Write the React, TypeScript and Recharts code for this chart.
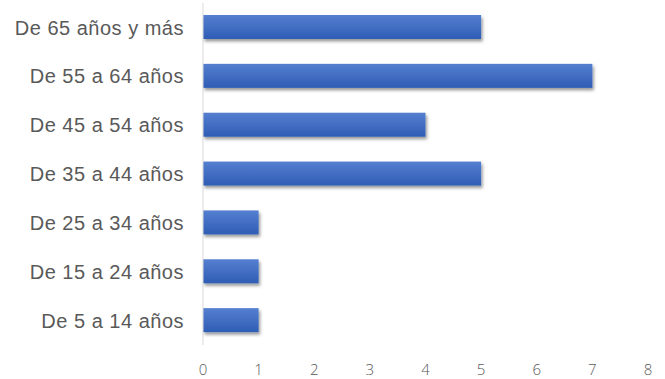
import { Bar, BarChart, XAxis, YAxis } from "recharts";

const ageGroups = [
  "De 65 años y más",
  "De 55 a 64 años",
  "De 45 a 54 años",
  "De 35 a 44 años",
  "De 25 a 34 años",
  "De 15 a 24 años",
  "De 5 a 14 años",
];
const counts = [5, 7, 4, 5, 1, 1, 1];
const xTicks = [0, 1, 2, 3, 4, 5, 6, 7, 8];

const data = ageGroups.map((group, i) => ({ group, count: counts[i] }));

const ShadowBar = (props: any) => {
  const { x, y, width, height } = props;
  if (!width || width <= 0) return null;
  return (
    <rect x={x} y={y} width={width} height={height} fill="url(#barFill)" filter="url(#barShadow)" />
  );
};

const ValueTick = ({ x, y, payload }: any) => (
  <text
    x={x}
    y={y + 28}
    textAnchor="middle"
    style={{ fontSize: "15px", fontFamily: "'Open Sans', sans-serif", fontWeight: 300 }}
    fill="#595959"
  >
    {payload.value}
  </text>
);

export default function App() {
  return (
    <div style={{ position: "absolute", left: 0, top: 0, fontFamily: "'Liberation Sans', Arial, sans-serif" }}>
      <BarChart
        width={665}
        height={379}
        data={data}
        layout="vertical"
        margin={{ top: 3, right: 17, bottom: 0, left: 0 }}
      >
        <defs>
          <linearGradient id="barFill" x1="0" y1="0" x2="0" y2="1">
            <stop offset="0%" stopColor="#557fd0" />
            <stop offset="100%" stopColor="#2f5db5" />
          </linearGradient>
          <filter id="barShadow" x="-10%" y="-30%" width="130%" height="180%">
            <feDropShadow dx="1.5" dy="2.5" stdDeviation="1.6" floodColor="#000" floodOpacity="0.4" />
          </filter>
        </defs>
        <XAxis
          type="number"
          domain={[0, 8]}
          ticks={xTicks}
          tickLine={false}
          axisLine={false}
          tickSize={0}
          height={34}
          tick={ValueTick}
        />
        <YAxis
          type="category"
          dataKey="group"
          width={203}
          tickLine={false}
          tickSize={0}
          tickMargin={19}
          axisLine={{ stroke: "#d9d9d9" }}
          tick={{ fontSize: 20, fill: "#595959", letterSpacing: 0.5 }}
        />
        <Bar dataKey="count" barSize={24} shape={ShadowBar} isAnimationActive={false} />
      </BarChart>
    </div>
  );
}
